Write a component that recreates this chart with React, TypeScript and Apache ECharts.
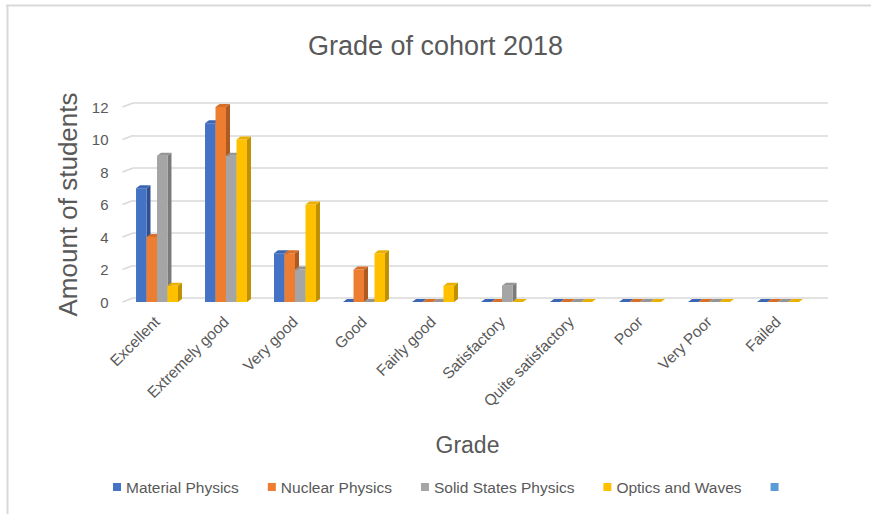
import React, { useEffect, useRef } from "react";
import * as echarts from "echarts";

const categories = [
  "Excellent",
  "Extremely good",
  "Very good",
  "Good",
  "Fairly good",
  "Satisfactory",
  "Quite satisfactory",
  "Poor",
  "Very Poor",
  "Failed",
];
const materialPhysics = [7, 11, 3, 0, 0, 0, 0, 0, 0, 0];
const nuclearPhysics = [4, 12, 3, 2, 0, 0, 0, 0, 0, 0];
const solidStatesPhysics = [9, 9, 2, 0, 0, 1, 0, 0, 0, 0];
const opticsAndWaves = [1, 10, 6, 3, 1, 0, 0, 0, 0, 0];
const yTicks = [0, 2, 4, 6, 8, 10, 12];

const seriesDefs = [
  { name: "Material Physics", data: materialPhysics, color: "#4472C4", side: "#2F528F", top: "#3B66B5" },
  { name: "Nuclear Physics", data: nuclearPhysics, color: "#ED7D31", side: "#AE5A21", top: "#D86F29" },
  { name: "Solid States Physics", data: solidStatesPhysics, color: "#A5A5A5", side: "#7B7B7B", top: "#959595" },
  { name: "Optics and Waves", data: opticsAndWaves, color: "#FFC000", side: "#BF9000", top: "#EAB000" },
];

const FONT = "'Liberation Sans', Arial, sans-serif";
const TXT = "#595959";
const DX = 4;
const DY = 3;

export default function App() {
  const ref = useRef<HTMLDivElement>(null);
  useEffect(() => {
    if (!ref.current) return;
    const chart = echarts.init(ref.current, undefined, { renderer: "svg" });

    const barSeries = seriesDefs.map((s, si) => ({
      type: "custom",
      name: s.name,
      xAxisIndex: 0,
      yAxisIndex: 0,
      itemStyle: { color: s.color },
      z: 3,
      data: s.data.map((v, i) => [i, v]),
      renderItem: (params: any, api: any) => {
        const cat = api.value(0);
        const v = api.value(1);
        const base = api.coord([cat, 0]);
        const top = api.coord([cat, v]);
        const band = api.size([1, 0])[0];
        const w = band * 0.152;
        const x0 = base[0] - 2 * w + si * w;
        const x1 = x0 + w;
        const yt = top[1];
        const yb = base[1];
        return {
          type: "group",
          children: [
            {
              type: "polygon",
              shape: { points: [[x1, yt], [x1 + DX, yt - DY], [x1 + DX, yb - DY], [x1, yb]] },
              style: { fill: s.side },
            },
            {
              type: "rect",
              shape: { x: x0, y: yt, width: w, height: yb - yt },
              style: { fill: s.color },
            },
            {
              type: "polygon",
              shape: { points: [[x0, yt], [x0 + DX, yt - DY], [x1 + DX, yt - DY], [x1, yt]] },
              style: { fill: s.top },
            },
          ],
        };
      },
    }));

    const option: any = {
      animation: false,
      backgroundColor: "#ffffff",
      title: {
        text: "Grade of cohort 2018",
        left: "center",
        top: 27,
        textStyle: { fontFamily: FONT, fontSize: 27, fontWeight: "normal", color: TXT },
      },
      legend: {
        bottom: 14,
        left: 108,
        icon: "rect",
        itemWidth: 8,
        itemHeight: 8,
        itemGap: 29,
        textStyle: { fontFamily: FONT, fontSize: 15.5, color: TXT },
        data: [...seriesDefs.map((s) => s.name), " "],
      },
      grid: [
        { left: 122.5, right: 58.5, top: 107, bottom: 212, containLabel: false },
        { left: 133, right: 43, top: 103, bottom: 216, containLabel: false },
      ],
      xAxis: [
        {
          type: "category",
          gridIndex: 0,
          data: categories,
          name: "Grade",
          nameLocation: "middle",
          nameGap: 131,
          nameTextStyle: { fontFamily: FONT, fontSize: 23, color: TXT, verticalAlign: "top" },
          axisLine: { show: false },
          axisTick: { show: false },
          axisLabel: { rotate: 45, margin: 17, fontFamily: FONT, fontSize: 15.5, color: TXT, interval: 0 },
        },
        {
          type: "category",
          gridIndex: 1,
          data: categories,
          show: false,
        },
      ],
      yAxis: [
        {
          type: "value",
          gridIndex: 0,
          min: 0,
          max: 12,
          interval: 2,
          name: "Amount of students",
          nameLocation: "middle",
          nameGap: 41,
          nameTextStyle: { fontFamily: FONT, fontSize: 26, color: TXT },
          axisLine: { show: false },
          axisTick: { show: false },
          splitLine: { show: false },
          axisLabel: { margin: 14, fontFamily: FONT, fontSize: 15, color: TXT },
        },
        {
          type: "value",
          gridIndex: 1,
          min: 0,
          max: 12,
          interval: 2,
          axisLine: { show: false },
          axisTick: { show: false },
          axisLabel: { show: false },
          splitLine: { show: true, lineStyle: { color: "#D9D9D9", width: 1.5 } },
        },
      ],
      series: [
        {
          type: "custom",
          name: "wallEdges",
          xAxisIndex: 0,
          yAxisIndex: 0,
          silent: true,
          z: 1,
          data: yTicks.map((t) => [0, t]),
          renderItem: (params: any, api: any) => {
            const p = api.coord([0, api.value(1)]);
            const band = api.size([1, 0])[0];
            const x = p[0] - band / 2;
            return {
              type: "line",
              shape: { x1: x, y1: p[1], x2: x + 10.5, y2: p[1] - 4 },
              style: { stroke: "#D9D9D9", lineWidth: 1.5 },
            };
          },
        },
        ...barSeries,
        {
          type: "bar",
          name: " ",
          xAxisIndex: 0,
          yAxisIndex: 0,
          itemStyle: { color: "#5B9BD5" },
          data: [],
        },
      ],
      graphic: [
        { type: "line", shape: { x1: 6, y1: 5.5, x2: 871, y2: 5.5 }, style: { stroke: "#D9D9D9", lineWidth: 2 } },
        { type: "line", shape: { x1: 7.5, y1: 5, x2: 7.5, y2: 514 }, style: { stroke: "#D9D9D9", lineWidth: 2 } },
      ],
    };
    chart.setOption(option);
    return () => chart.dispose();
  }, []);
  return <div ref={ref} style={{ width: 871, height: 514, position: "absolute", left: 0, top: 0 }} />;
}
